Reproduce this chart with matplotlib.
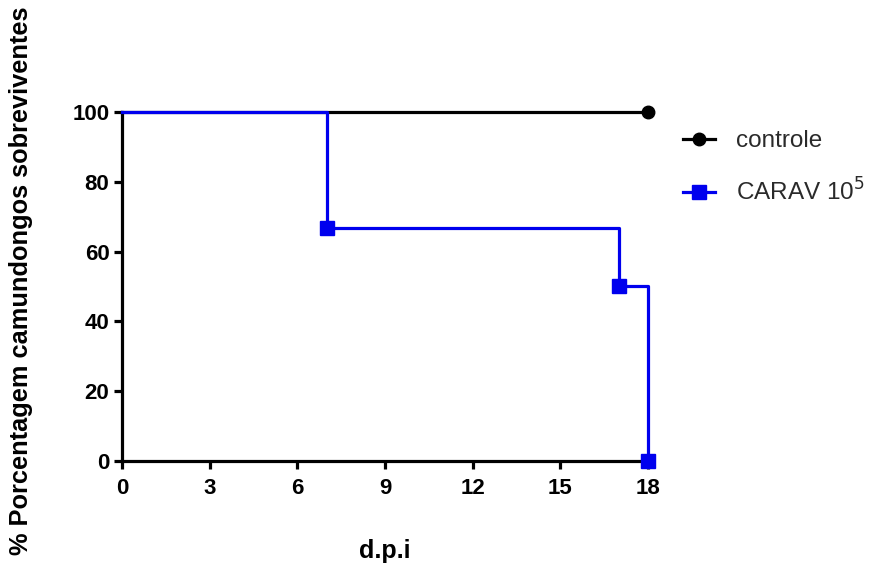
import matplotlib
matplotlib.use("Agg")
import matplotlib.pyplot as plt

# —— survival data (days post infection, % surviving) ——
days_controle = [0, 18]
surv_controle = [100, 100]

days_carav = [0, 7, 17, 18]
surv_carav = [100, 66.67, 50, 0]

x_ticks = [0, 3, 6, 9, 12, 15, 18]
y_ticks = [0, 20, 40, 60, 80, 100]

plt.rcParams['font.family'] = ['Liberation Sans', 'DejaVu Sans']

fig = plt.figure(figsize=(8.93, 5.67), dpi=100)
ax = fig.add_axes([0.1366, 0.187, 0.589, 0.6155])

ax.step(days_controle, surv_controle, where='post', color='black', lw=2.3,
        marker='o', markersize=9, markevery=[1], clip_on=False, zorder=3,
        label='controle')
ax.step(days_carav, surv_carav, where='post', color='#0000ee', lw=2.3,
        marker='s', markersize=10, markevery=[1, 2, 3], clip_on=False,
        zorder=4, label='CARAV 10$^5$')

ax.set_xlim(0, 18)
ax.set_ylim(0, 100)
ax.set_xticks(x_ticks)
ax.set_yticks(y_ticks)

for side in ('top', 'right'):
    ax.spines[side].set_visible(False)
for side in ('left', 'bottom'):
    ax.spines[side].set_linewidth(2.3)
ax.tick_params(width=2.3, length=6, direction='out', labelsize=16)
ax.tick_params(axis='x', pad=6)
ax.tick_params(axis='y', pad=3)
for lab in ax.get_xticklabels() + ax.get_yticklabels():
    lab.set_fontweight('bold')

ax.set_xlabel('d.p.i', fontsize=18, fontweight='bold', labelpad=29)
fig.text(0.024, 0.505, '% Porcentagem camundongos sobreviventes', rotation=90,
         ha='center', va='center', fontsize=18.3, fontweight='bold')

leg = ax.legend(loc='upper left', bbox_to_anchor=(1.025, 1.01), frameon=False,
                fontsize=17.5, handlelength=1.3, labelspacing=1.05,
                handletextpad=0.9)
for t in leg.get_texts():
    t.set_color('#2a2a2a')

fig.savefig('out.png', dpi=100)
